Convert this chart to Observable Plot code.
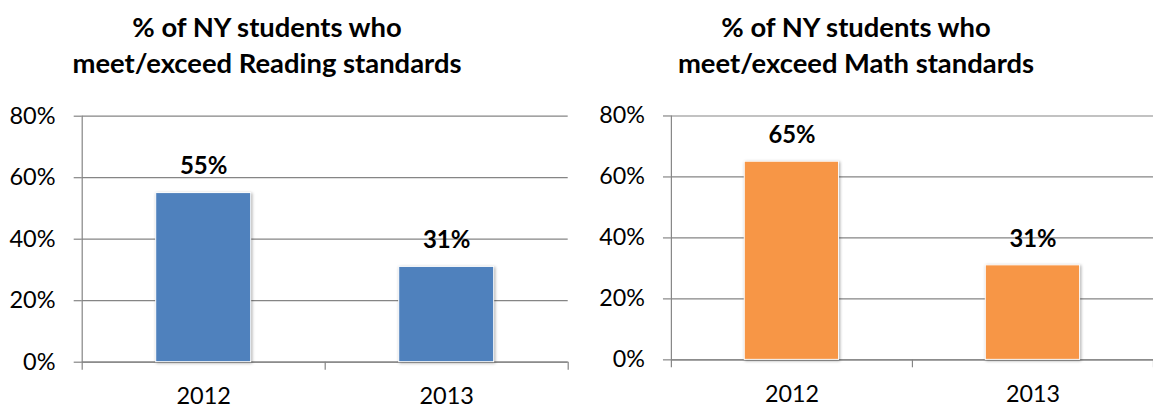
<!DOCTYPE html>
<html>
<head>
<meta charset="utf-8">
<script src="https://cdn.jsdelivr.net/npm/d3@7"></script>
<script src="https://cdn.jsdelivr.net/npm/@observablehq/plot@0.6"></script>
<style>
  html, body { margin: 0; padding: 0; background: #fff; overflow: hidden; }
  #root { position: relative; width: 1153px; height: 409px; overflow: hidden; font-family: Lato, sans-serif; }
  .title { position: absolute; top: 0; width: 560px; text-align: center; font-weight: bold; font-size: 27.4px; line-height: 36px; color: #000; }
  .title div { white-space: nowrap; }
  .panel { position: absolute; top: 90px; }
</style>
</head>
<body>
<div id="root"></div>
<script>
const categories = ["2012", "2013"];
const readingValues = [55, 31];
const mathValues = [65, 31];
const yTicks = [0, 20, 40, 60, 80];
const readingTitle = ["% of NY students who", "meet/exceed Reading standards"];
const mathTitle = ["% of NY students who", "meet/exceed Math standards"];

const gray = "#858585";
const root = document.getElementById("root");

function addTitle(lines, centerX) {
  const t = document.createElement("div");
  t.className = "title";
  t.style.left = (centerX - 280) + "px";
  t.style.top = "9px";
  lines.forEach(l => { const d = document.createElement("div"); d.textContent = l; t.appendChild(d); });
  root.appendChild(t);
}

function panel(values, color, left, width, marginLeft, marginRight) {
  const data = categories.map((c, i) => ({c, i, v: values[i]}));
  const svg = Plot.plot({
    width, height: 319,
    marginTop: 25.7, marginBottom: 47.3, marginLeft, marginRight,
    x: {domain: [0, categories.length], axis: null},
    y: {domain: [0, 80], axis: null},
    style: {fontFamily: "Lato, sans-serif", fontSize: "23.5px", color: "#000", background: "transparent", overflow: "visible"},
    marks: [
      Plot.gridY(yTicks, {stroke: gray, strokeOpacity: 1, strokeWidth: 1.2}),
      Plot.axisY({ticks: yTicks, tickFormat: d => d + "%", tickSize: 8, tickPadding: 18.7, stroke: gray, strokeWidth: 1.2, fontSize: 23.5, label: null}),
      Plot.ruleX([0], {stroke: gray, strokeWidth: 1.2, insetBottom: -8}),
      Plot.ruleY([0], {stroke: gray, strokeWidth: 1.2}),
      Plot.ruleX(categories.map((c, i) => i + 1), {y1: 0, y2: 0, insetBottom: -8, stroke: gray, strokeWidth: 1.2}),
      Plot.rectY(data, {x1: "i", x2: d => d.i + 1, y: "v", fill: color, insetLeft: 74, insetRight: 74, stroke: "#fff", strokeWidth: 1}),
      Plot.text(data, {x: d => d.i + 0.5, y: "v", text: d => d.v + "%", fontWeight: "bold", fontSize: 24, lineAnchor: "bottom", dy: -19, fill: "#000"}),
      Plot.axisX({ticks: categories.map((c, i) => i + 0.5), tickFormat: d => categories[Math.floor(d)], tickSize: 0, tickPadding: 25.5, fontSize: 23.5, label: null})
    ]
  });
  d3.select(svg).selectAll('g[aria-label="rect"]').style("filter", "drop-shadow(1.5px 1.5px 1.5px rgba(0,0,0,0.35))");
  const wrap = document.createElement("div");
  wrap.className = "panel";
  wrap.style.left = left + "px";
  wrap.appendChild(svg);
  root.appendChild(wrap);
}

addTitle(readingTitle, 267);
addTitle(mathTitle, 856);
panel(readingValues, "#4F81BD", 0, 576, 81.7, 8.3);
panel(mathValues, "#F79646", 576, 582, 95.7, 0);
</script>
</body>
</html>
